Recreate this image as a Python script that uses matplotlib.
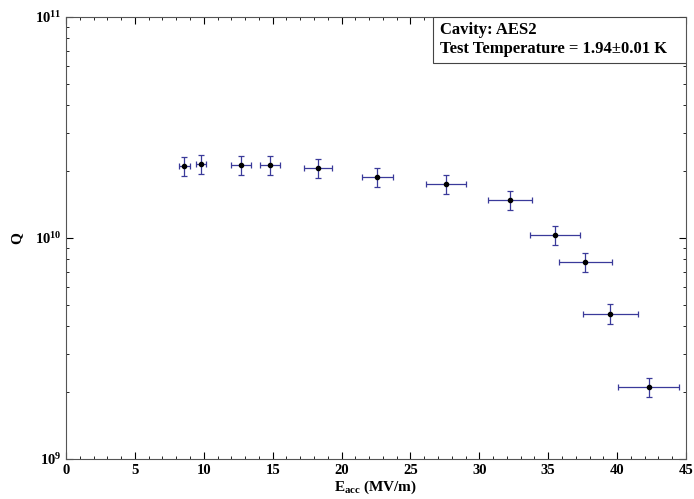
import matplotlib
matplotlib.use('Agg')
import matplotlib.pyplot as plt
from matplotlib.patches import Rectangle
from matplotlib.ticker import MultipleLocator, LogLocator, NullFormatter

plt.rcParams['font.family'] = ['Liberation Serif', 'DejaVu Serif']
plt.rcParams['font.weight'] = 'bold'
plt.rcParams['mathtext.fontset'] = 'custom'
plt.rcParams['mathtext.rm'] = 'Liberation Serif:bold'
plt.rcParams['mathtext.it'] = 'Liberation Serif:bold'
plt.rcParams['mathtext.bf'] = 'Liberation Serif:bold'

# accelerating gradient (MV/m) and quality factor
eacc = [8.6, 9.8, 12.7, 14.8, 18.3, 22.6, 27.6, 32.2, 35.5, 37.7, 39.5, 42.3]
eacc_err = [0.4, 0.35, 0.7, 0.75, 1.0, 1.15, 1.45, 1.6, 1.8, 1.9, 2.0, 2.2]
q0 = [2.12e10, 2.16e10, 2.14e10, 2.14e10, 2.07e10, 1.89e10,
      1.75e10, 1.49e10, 1.03e10, 7.8e9, 4.55e9, 2.12e9]
q0_err = [v * 0.1 for v in q0]

fig = plt.figure(figsize=(6.94, 4.99), dpi=100)
ax = fig.add_axes([66 / 694, 1 - 459 / 499, 620 / 694, 442 / 499])

ax.errorbar(eacc, q0, xerr=eacc_err, yerr=q0_err, fmt='o', color='black',
            ms=3, ecolor='#3a3a9a', elinewidth=0.9, capsize=2.5, capthick=0.9)

ax.set_yscale('log')
ax.set_xlim(0, 45)
ax.set_ylim(1e9, 1e11)
ax.xaxis.set_major_locator(MultipleLocator(5))
ax.xaxis.set_minor_locator(MultipleLocator(1))
ax.yaxis.set_major_locator(LogLocator(base=10))
ax.yaxis.set_minor_locator(LogLocator(base=10, subs=range(2, 10)))
ax.yaxis.set_minor_formatter(NullFormatter())
ax.tick_params(which='both', direction='in', top=True, right=True, labelsize=10.5)
ax.tick_params(which='major', length=5)
ax.tick_params(which='minor', length=2.5)
for sp in ax.spines.values():
    sp.set_color('#555555')

ax.set_xlabel(r'E$_{\mathrm{acc}}$ (MV/m)', fontsize=11, fontweight='bold', labelpad=1)
ax.set_ylabel('Q', fontsize=11, fontweight='bold', rotation=90, labelpad=8)

# info box in the top right corner
ax.add_patch(Rectangle((0.592, 0.896), 0.408, 0.104, transform=ax.transAxes,
                       fc='white', ec='#444444', lw=0.8, zorder=5))
ax.text(0.604, 0.988, 'Cavity: AES2\nTest Temperature = 1.94\u00b10.01 K',
        transform=ax.transAxes, ha='left', va='top', fontsize=12,
        fontweight='bold', linespacing=1.25, zorder=6)

fig.savefig('out.png', dpi=100)
